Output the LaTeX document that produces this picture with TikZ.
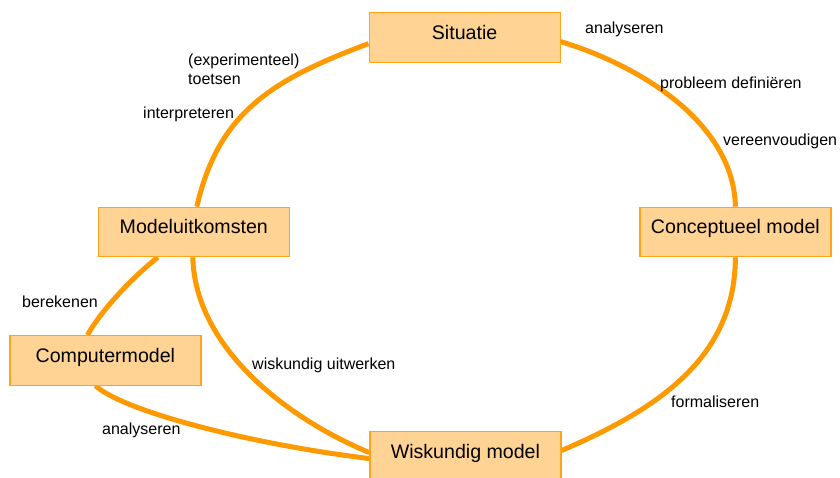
\documentclass[tikz,border=0pt]{standalone}
\usepackage{fontspec}
\setmainfont{Liberation Sans}
\usetikzlibrary{backgrounds}
\definecolor{lineor}{HTML}{FF9900}
\definecolor{boxfill}{HTML}{FFD393}
\definecolor{boxline}{HTML}{FFA31A}
\begin{document}
\begin{tikzpicture}[x=1pt,y=1pt,
  stage/.style={draw=boxline, line width=1.2pt, fill=boxfill, inner sep=0pt,
    minimum width=191pt, minimum height=49.5pt, text height=26.7pt, text depth=22.8pt,
    font=\fontsize{19.6}{23.5}\selectfont, anchor=north west},
  lbl/.style={inner sep=0pt, anchor=base west, font=\fontsize{16}{19}\selectfont},
  link/.style={draw=lineor, line width=5pt}]
\useasboundingbox (0,0) rectangle (840,477);
\node[stage] (sit)  at (368.5,464.7) {Situatie};
\node[stage] (con)  at (639.3,270.3) {Conceptueel model};
\node[stage] (mod)  at (97.7,270.3)  {Modeluitkomsten};
\node[stage] (comp) at (9.3,142)     {Computermodel};
\node[stage] (wis)  at (369.3,46.3)  {Wiskundig model};

\node[lbl] (l1) at (585,443.5) {analyseren};
\node[lbl] (l2) at (660,388.5) {probleem definiëren};
\node[lbl] (l3) at (723,331.5) {vereenvoudigen};
\node[lbl] (l4) at (671,70)    {formaliseren};
\node[lbl] (l5) at (252,107.5) {wiskundig uitwerken};
\node[lbl] (l6) at (102,42.5)  {analyseren};
\node[lbl] (l7) at (22,170)    {berekenen};
\node[lbl] (l8) at (143,358.7) {interpreteren};
\node[lbl] (l9) at (188,411)   {(experimenteel)};
\node[lbl] (l10) at (188,392)  {toetsen};

\begin{scope}[on background layer]
\draw[link] ([yshift=-4pt]sit.east) .. controls (645,410) and (734,351) .. (con.north);
\draw[link] (con.south) .. controls (735,121) and (661,69) .. ([yshift=5.5pt]wis.east);
\draw[link] ([yshift=3.5pt]wis.west) .. controls (286,59) and (195,130) .. ([xshift=-1pt]mod.south);
\draw[link] ([xshift=3pt]mod.north) .. controls (218,362) and (268,396) .. ([yshift=-6pt]sit.west);
\draw[link] ([xshift=-36pt]mod.south) .. controls (134,201) and (103,169) .. ([xshift=-18pt]comp.north);
\draw[link] ([xshift=-10pt]comp.south) .. controls (123,66) and (249,33) .. ([yshift=-2.5pt]wis.west);
\end{scope}
\end{tikzpicture}
\end{document}
